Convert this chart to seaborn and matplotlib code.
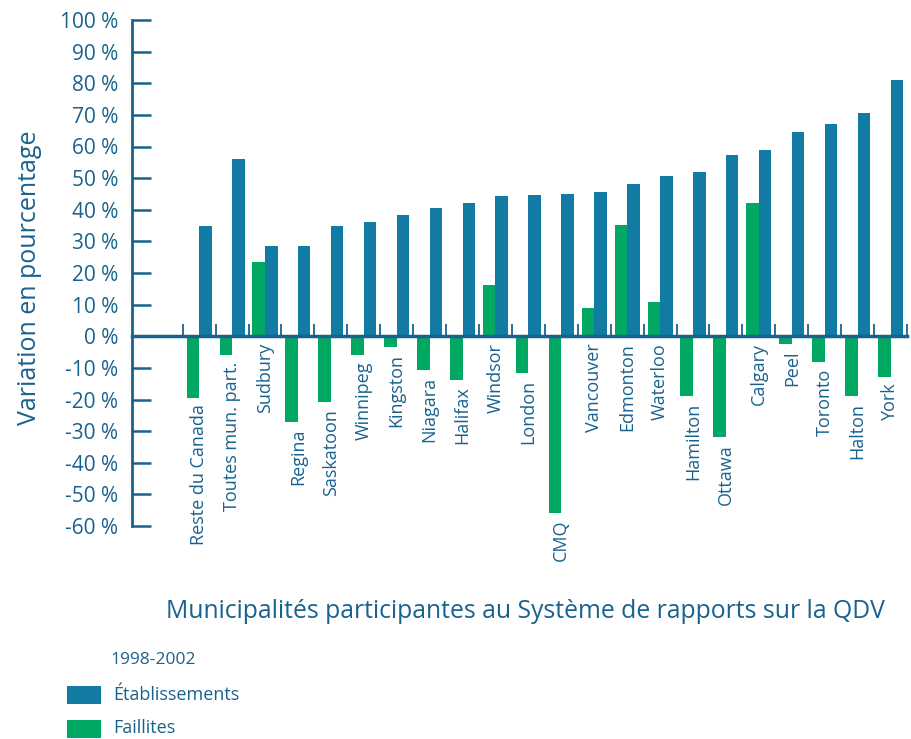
import numpy as np
import pandas as pd
import matplotlib
matplotlib.use("Agg")
import matplotlib.pyplot as plt
from matplotlib.patches import Rectangle
from matplotlib.ticker import FixedLocator
import seaborn as sns

# data (variation in %, 1998-2002)
municipalites = ["Reste du Canada", "Toutes mun. part.", "Sudbury", "Regina", "Saskatoon",
                 "Winnipeg", "Kingston", "Niagara", "Halifax", "Windsor", "London", "CMQ",
                 "Vancouver", "Edmonton", "Waterloo", "Hamilton", "Ottawa", "Calgary",
                 "Peel", "Toronto", "Halton", "York"]
etablissements = [35, 56, 28.6, 28.6, 35, 36, 38.4, 40.6, 42, 44.4, 44.7, 45,
                  45.6, 48, 50.7, 52, 57.4, 59, 64.6, 67, 70.7, 81.1]
faillites = [-19.4, -5.8, 23.5, -27, -20.7, -5.8, -3.3, -10.6, -13.7, 16.2, -11.5, -55.8,
             9, 35.2, 10.9, -18.8, -31.8, 42.2, -2.3, -8, -18.8, -12.8]
y_ticks = list(range(-60, 101, 10))

BLUE = "#127ba4"
GREEN = "#00a862"
TXT = "#19628e"

df = pd.DataFrame({
    "mun": municipalites * 2,
    "val": faillites + etablissements,
    "serie": ["Faillites"] * len(municipalites) + ["Établissements"] * len(municipalites),
})

sns.set_style("white")
plt.rcParams["font.family"] = ["Open Sans", "DejaVu Sans"]

W, H = 911, 739
fig = plt.figure(figsize=(W / 100, H / 100), dpi=100)
ax = fig.add_axes([132 / W, 1 - 526 / H, (907 - 132) / W, 506 / H])

sns.barplot(data=df, x="mun", y="val", hue="serie", order=municipalites,
            hue_order=["Faillites", "Établissements"],
            palette={"Faillites": GREEN, "Établissements": BLUE},
            saturation=1, width=0.76, linewidth=0, legend=False, ax=ax)

n = len(municipalites)
ax.set_xlim(-2.04, n - 0.5)
ax.set_ylim(-60, 100)

# axes styling
for s in ["top", "right"]:
    ax.spines[s].set_visible(False)
ax.spines["left"].set_color(TXT)
ax.spines["left"].set_linewidth(2)
ax.spines["bottom"].set_position(("data", 0))
ax.spines["bottom"].set_color(TXT)
ax.spines["bottom"].set_linewidth(2.5)

ax.set_yticks(y_ticks)
ax.set_yticklabels([f"{v} %" for v in y_ticks])
ax.tick_params(axis="y", direction="in", length=14, width=1.8, color=TXT,
               labelcolor=TXT, labelsize=15, pad=10, left=True)

ax.set_xticks(range(n))
ax.set_xticklabels([])
ax.xaxis.set_minor_locator(FixedLocator(np.arange(n + 1) - 0.5))
ax.tick_params(axis="x", which="major", length=0)
ax.tick_params(axis="x", which="minor", direction="in", length=9, width=1.3,
               color=TXT, bottom=True)

ax.set_xlabel("")
ax.set_ylabel("Variation en pourcentage", fontsize=18, color=TXT)
ax.yaxis.set_label_coords(-(132 - 42) / 775, 0.49)

# category labels below the lowest part of each group
for i, name in enumerate(municipalites):
    low = min(0, faillites[i])
    ax.annotate(name, xy=(i, low), xytext=(0, -5), textcoords="offset points",
                rotation=90, ha="center", va="top", fontsize=13, color=TXT)

fig.text(525 / W, 1 - 612 / H, "Municipalités participantes au Système de rapports sur la QDV",
         ha="center", va="center", fontsize=17.8, color=TXT)
fig.text(110 / W, 1 - 660 / H, "1998-2002", ha="left", va="center", fontsize=12.5, color=TXT)

# legend
fig.add_artist(Rectangle((67 / W, 1 - 704 / H), 34 / W, 18 / H, transform=fig.transFigure,
                         facecolor=BLUE, edgecolor="none"))
fig.add_artist(Rectangle((67 / W, 1 - 738 / H), 34 / W, 18 / H, transform=fig.transFigure,
                         facecolor=GREEN, edgecolor="none"))
fig.text(113 / W, 1 - 695 / H, "Établissements", ha="left", va="center", fontsize=13, color=TXT)
fig.text(113 / W, 1 - 728 / H, "Faillites", ha="left", va="center", fontsize=13, color=TXT)

fig.savefig("out.png", dpi=100)
